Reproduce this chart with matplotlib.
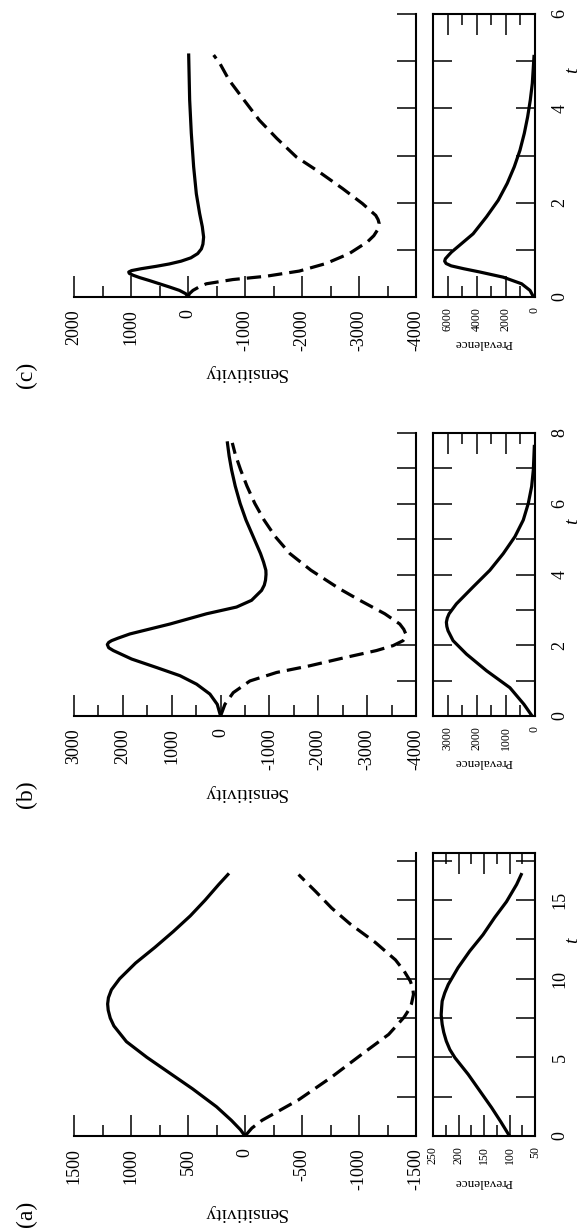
import numpy as np
import matplotlib.pyplot as plt
from matplotlib.ticker import MultipleLocator

plt.rcParams['font.family'] = ['Liberation Serif', 'DejaVu Serif']
plt.rcParams['axes.unicode_minus'] = False

# ---- panel (a) ----
t_a_solid = [0, 0.4, 1.0, 1.86, 3.0, 4.0, 5.0, 6.0, 7.0, 7.5, 8.0, 8.4, 8.8, 9.3, 10.0, 11.0, 12.0, 13.0, 14.0, 15.0, 16.0, 16.63]
s_a_solid = [0, 40, 120, 250, 460, 660, 860, 1040, 1150, 1182, 1200, 1205, 1198, 1172, 1100, 960, 790, 630, 480, 350, 230, 150]
t_a_dash = [0, 0.5, 1.0, 2.3, 3.75, 5.2, 6.46, 7.55, 8.0, 8.4, 9.0, 9.4, 9.85, 10.5, 11.2, 12.3, 13.5, 14.5, 15.55, 16.63]
s_a_dash = [0, -60, -150, -470, -760, -1025, -1260, -1395, -1435, -1460, -1478, -1472, -1450, -1395, -1320, -1145, -920, -760, -620, -470]
t_a_prev = [0, 0.9, 1.8, 2.86, 3.92, 4.98, 5.5, 6.04, 6.6, 7.1, 7.7, 8.2, 8.58, 9.1, 9.64, 10.7, 11.76, 12.8, 13.9, 14.9, 16.0, 16.63]
p_a_prev = [100, 117, 135, 158, 181, 207, 217, 224, 229, 232, 234, 233, 232, 227, 220, 201, 178, 152, 129, 106, 86, 77]

# ---- panel (b) ----
t_b_solid = [0, 0.33, 0.62, 0.9, 1.14, 1.37, 1.61, 1.85, 1.93, 2.02, 2.08, 2.13, 2.2, 2.32, 2.6, 2.89, 3.08, 3.27, 3.55, 3.7, 3.84, 4.0, 4.12, 4.35, 4.59, 5.07, 5.54, 6.01, 6.5, 6.96, 7.35, 7.72]
s_b_solid = [0, 68, 218, 491, 832, 1309, 1820, 2195, 2290, 2318, 2290, 2230, 2100, 1855, 1036, 286, -327, -634, -839, -895, -920, -930, -927, -880, -818, -668, -520, -400, -300, -225, -175, -140]
t_b_dash = [0, 0.33, 0.66, 0.99, 1.23, 1.42, 1.64, 1.85, 1.99, 2.13, 2.22, 2.32, 2.45, 2.6, 2.89, 3.27, 3.6, 4.12, 4.59, 5.07, 5.54, 6.01, 6.5, 6.96, 7.4, 7.72]
s_b_dash = [0, -89, -259, -600, -1145, -1827, -2509, -3191, -3532, -3736, -3785, -3791, -3750, -3668, -3361, -2850, -2430, -1850, -1420, -1120, -890, -700, -540, -410, -300, -240]
t_b_prev = [0, 0.33, 0.8, 1.28, 1.75, 2.13, 2.41, 2.53, 2.65, 2.77, 2.89, 3.17, 3.65, 4.12, 4.59, 5.07, 5.54, 6.01, 6.49, 6.96, 7.62]
p_b_prev = [100, 379, 861, 1664, 2352, 2811, 2984, 3025, 3041, 3010, 2949, 2697, 2123, 1549, 1090, 689, 402, 230, 115, 57, 23]

# ---- panel (c) ----
t_c_solid = [0, 0.07, 0.14, 0.21, 0.28, 0.35, 0.41, 0.46, 0.5, 0.53, 0.56, 0.6, 0.65, 0.7, 0.76, 0.83, 0.92, 1.02, 1.12, 1.27, 1.49, 1.77, 2.19, 2.76, 3.47, 4.18, 5.13]
s_c_solid = [0, 40, 150, 320, 500, 680, 845, 960, 1030, 1040, 990, 820, 560, 330, 120, -50, -170, -235, -262, -274, -251, -204, -146, -99, -58, -29, -12]
t_c_dash = [0, 0.07, 0.14, 0.21, 0.28, 0.37, 0.44, 0.55, 0.71, 0.92, 1.17, 1.3, 1.42, 1.5, 1.56, 1.64, 1.73, 1.98, 2.3, 2.65, 2.97, 3.36, 3.75, 4.18, 4.6, 4.95, 5.13]
s_c_dash = [0, -25, -87, -190, -321, -787, -1370, -1953, -2420, -2828, -3149, -3260, -3324, -3348, -3353, -3335, -3294, -3061, -2711, -2303, -1900, -1560, -1250, -980, -720, -560, -450]
t_c_prev = [0, 0.14, 0.28, 0.42, 0.53, 0.6, 0.66, 0.71, 0.76, 0.81, 0.88, 0.95, 1.13, 1.34, 1.7, 2.05, 2.41, 2.76, 3.11, 3.47, 3.82, 4.18, 4.53, 5.1]
p_c_prev = [100, 344, 918, 2180, 3787, 4900, 5750, 6100, 6200, 6150, 5950, 5738, 5049, 4246, 3328, 2525, 1905, 1423, 1033, 734, 505, 321, 184, 69]

W, H = 584, 1231
fig = plt.figure(figsize=(W / 100, H / 100), dpi=100)


def rect(l, r, top, bot):
    return [l / W, 1 - bot / H, (r - l) / W, (bot - top) / H]


panels = [
    # label, top, bottom, sens range, sens major, tmax, t step, t label step, prev range, prev major, data, y of "t"
    ('(a)', 853, 1136, (1500, -1500), 500, 18, 2.5, 5, (250, 50), 50,
     (t_a_solid, s_a_solid, t_a_dash, s_a_dash, t_a_prev, p_a_prev), 940),
    ('(b)', 433, 716, (3000, -4000), 1000, 8, 1, 2, (3500, 0), 1000,
     (t_b_solid, s_b_solid, t_b_dash, s_b_dash, t_b_prev, p_b_prev), 521),
    ('(c)', 14, 297, (2000, -4000), 1000, 6, 1, 2, (7000, 0), 2000,
     (t_c_solid, s_c_solid, t_c_dash, s_c_dash, t_c_prev, p_c_prev), 70),
]

lw = 2.3
for lab, top, bot, srange, smaj, tmax, tstep, tlab, prange, pmaj, data, ty in panels:
    ts, ss, td, sd, tp, pp = data

    # sensitivity panel (drawn sideways)
    ax = fig.add_axes(rect(74, 416, top, bot))
    ax.plot(ss, ts, color='black', lw=lw)
    ax.plot(sd, td, color='black', lw=lw, linestyle=(0, (4.5, 2.2)))
    ax.set_xlim(*srange)
    ax.set_ylim(0, tmax)
    ax.spines['top'].set_visible(False)
    ax.spines['left'].set_visible(False)
    ax.spines['bottom'].set_linewidth(1.5)
    ax.spines['right'].set_linewidth(1.5)
    ax.xaxis.set_major_locator(MultipleLocator(smaj))
    ax.xaxis.set_minor_locator(MultipleLocator(smaj / 2))
    ax.yaxis.set_major_locator(MultipleLocator(tstep))
    ax.tick_params(axis='x', which='major', direction='in', length=15, width=1.1,
                   labelrotation=90, labelsize=13, pad=9)
    ax.tick_params(axis='x', which='minor', direction='in', length=8, width=1.1)
    ax.tick_params(axis='y', which='major', direction='in', length=14, width=1.1,
                   left=False, right=True, labelleft=False, labelright=False)
    ax.text(0.5, -76 / (bot - top), 'Sensitivity', transform=ax.transAxes,
            rotation=180, ha='center', va='center', fontsize=14)

    # prevalence panel
    bx = fig.add_axes(rect(433, 535, top, bot))
    bx.plot(pp, tp, color='black', lw=lw)
    bx.set_xlim(*prange)
    bx.set_ylim(0, tmax)
    for s in bx.spines.values():
        s.set_linewidth(1.5)
    bx.xaxis.set_major_locator(MultipleLocator(pmaj))
    bx.xaxis.set_minor_locator(MultipleLocator(pmaj / 2))
    bx.yaxis.set_major_locator(MultipleLocator(tlab))
    bx.yaxis.set_minor_locator(MultipleLocator(tstep))
    bx.tick_params(axis='x', which='major', direction='in', length=15, width=1.1,
                   top=True, bottom=True, labelrotation=90, labelsize=8.5, pad=7)
    bx.tick_params(axis='x', which='minor', direction='in', length=8, width=1.1,
                   top=True, bottom=True)
    bx.tick_params(axis='y', which='both', direction='in', length=14, width=1.1,
                   left=True, right=True, labelleft=False, labelright=True,
                   labelrotation=90, labelsize=13, pad=12)
    plt.setp(bx.get_yticklabels(), va='center')
    bx.text(0.5, -46 / (bot - top), 'Prevalence', transform=bx.transAxes,
            rotation=180, ha='center', va='center', fontsize=9.5)

    fig.text(26 / W, 1 - (bot + 78) / H, lab, rotation=90, ha='center', va='center', fontsize=17)
    fig.text(573 / W, 1 - ty / H, 't', style='italic', rotation=90, ha='center', va='center', fontsize=14)

fig.savefig('out.png', dpi=100)
